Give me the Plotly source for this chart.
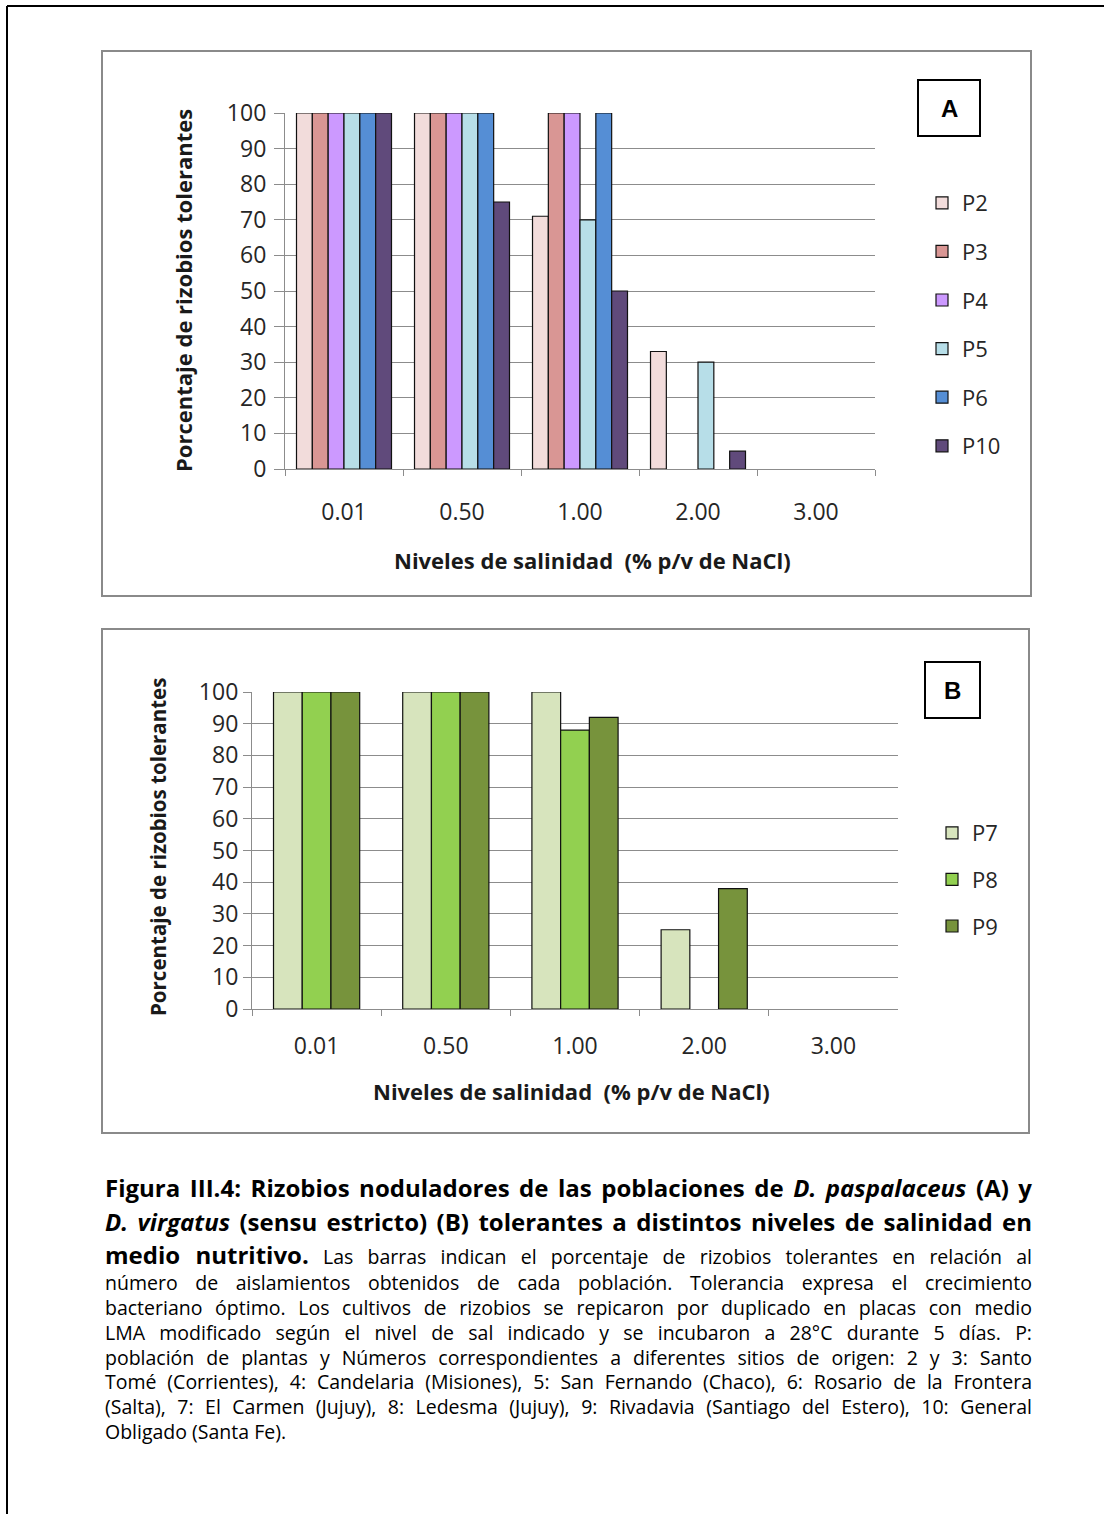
import json
import plotly.graph_objects as go

# Salinity levels (% w/v NaCl) shared by both panels
niveles = ["0.01", "0.50", "1.00", "2.00", "3.00"]

# Panel A: D. paspalaceus populations (% tolerant rhizobia)
series_a = ["P2", "P3", "P4", "P5", "P6", "P10"]
p2 = [100, 100, 71, 33, 0]
p3 = [100, 100, 100, 0, 0]
p4 = [100, 100, 100, 0, 0]
p5 = [100, 100, 70, 30, 0]
p6 = [100, 100, 100, 0, 0]
p10 = [100, 75, 50, 5, 0]
values_a = [p2, p3, p4, p5, p6, p10]
colors_a = ["#F2DCDB", "#D99694", "#CC99FF", "#B7DEE8", "#558ED5", "#604A7B"]

# Panel B: D. virgatus (sensu stricto) populations
series_b = ["P7", "P8", "P9"]
p7 = [100, 100, 100, 25, 0]
p8 = [100, 100, 88, 0, 0]
p9 = [100, 100, 92, 38, 0]
values_b = [p7, p8, p9]
colors_b = ["#D7E4BD", "#92D050", "#77933C"]

y_ticks = list(range(0, 101, 10))

W, H = 1104, 1514
FONT = "'Open Sans', Lato, sans-serif"
GRID = "#8C8C8C"


def px(x):
    return x / W


def py(y):
    return 1 - y / H


fig = go.Figure()


def add_group(names, values, colors, xa, ya, legend, group_frac):
    n = len(names)
    bw = group_frac / n
    for i, (name, vals, col) in enumerate(zip(names, values, colors)):
        fig.add_trace(go.Bar(
            x=niveles, y=vals, name=name,
            marker=dict(color=col,
                        line=dict(color="#111111",
                                  width=[1.2 if v > 0 else 0 for v in vals])),
            width=bw, offset=-group_frac / 2 + i * bw,
            xaxis=xa, yaxis=ya, legend=legend, legendgroup=name,
            hovertemplate=name + ": %{y}%<extra></extra>",
        ))


add_group(series_a, values_a, colors_a, "x", "y", "legend", 0.805)
add_group(series_b, values_b, colors_b, "x2", "y2", "legend2", 0.667)

axis_common = dict(
    showline=True, linecolor=GRID, linewidth=1.2,
    ticks="outside", tickcolor=GRID, tickwidth=1.2,
    tickfont=dict(family=FONT, size=23, color="#262626"),
    zeroline=False, automargin=False,
)

# Panel A plot area (pixels)
ax_a = dict(left=285, right=875, top=113, bottom=469)
# Panel B plot area (pixels)
ax_b = dict(left=252, right=898, top=692, bottom=1009)

legend_font = dict(family=FONT, size=22, color="#262626")

fig.update_layout(
    width=W, height=H,
    margin=dict(l=0, r=0, t=0, b=0, autoexpand=False),
    paper_bgcolor="white", plot_bgcolor="white",
    barmode="overlay",
    showlegend=True,
    xaxis=dict(domain=[px(ax_a["left"]), px(ax_a["right"])], anchor="y",
               type="category", tickson="boundaries", ticklen=6,
               ticklabelstandoff=22, showgrid=False, **axis_common),
    yaxis=dict(domain=[py(ax_a["bottom"]), py(ax_a["top"])], anchor="x",
               range=[0, 100], tickvals=y_ticks, ticklen=10,
               ticklabelstandoff=3,
               showgrid=True, gridcolor=GRID, gridwidth=1.2, **axis_common),
    xaxis2=dict(domain=[px(ax_b["left"]), px(ax_b["right"])], anchor="y2",
                type="category", tickson="boundaries", ticklen=6,
                ticklabelstandoff=16, showgrid=False, **axis_common),
    yaxis2=dict(domain=[py(ax_b["bottom"]), py(ax_b["top"])], anchor="x2",
                range=[0, 100], tickvals=y_ticks, ticklen=8,
                showgrid=True, gridcolor=GRID, gridwidth=1.2, **axis_common),
    legend=dict(x=px(922), y=py(182), xanchor="left", yanchor="top",
                font=legend_font, tracegroupgap=17, bgcolor="rgba(0,0,0,0)",
                itemclick=False, itemdoubleclick=False),
    legend2=dict(x=px(932), y=py(812), xanchor="left", yanchor="top",
                 font=legend_font, tracegroupgap=15, bgcolor="rgba(0,0,0,0)",
                 itemclick=False, itemdoubleclick=False),
)

shapes = []
annotations = []

# Page frame: top and left rules
shapes.append(dict(type="line", xref="paper", yref="paper",
                   x0=px(7), x1=1, y0=py(6), y1=py(6),
                   line=dict(color="black", width=2)))
shapes.append(dict(type="line", xref="paper", yref="paper",
                   x0=px(7), x1=px(7), y0=py(6), y1=0,
                   line=dict(color="black", width=2)))

# Chart area frames
for x0, y0, x1, y1 in [(102, 51, 1031, 596), (102, 629, 1029, 1133)]:
    shapes.append(dict(type="rect", xref="paper", yref="paper",
                       x0=px(x0), x1=px(x1), y0=py(y0), y1=py(y1),
                       line=dict(color="#8A8A8A", width=2)))

# Panel letter boxes
for letter, (x0, y0, x1, y1) in [("A", (918, 80, 980, 136)),
                                 ("B", (925, 662, 980, 718))]:
    shapes.append(dict(type="rect", xref="paper", yref="paper",
                       x0=px(x0), x1=px(x1), y0=py(y0), y1=py(y1),
                       line=dict(color="black", width=2)))
    annotations.append(dict(text="<b>%s</b>" % letter, xref="paper", yref="paper",
                            x=px((x0 + x1) / 2), y=py((y0 + y1) / 2),
                            showarrow=False, xanchor="center", yanchor="middle",
                            font=dict(family="Liberation Sans, Arial", size=24,
                                      color="black")))

# Axis titles
y_title = "<b>Porcentaje de rizobios tolerantes</b>"
x_title = "<b>Niveles de salinidad  (% p/v de NaCl)</b>"
for text, x, y, ang, size in [(y_title, 183, 290, -90, 22),
                              (x_title, 592, 560, 0, 22),
                              (y_title, 158, 847, -90, 20.5),
                              (x_title, 571, 1091, 0, 22)]:
    annotations.append(dict(text=text, xref="paper", yref="paper",
                            x=px(x), y=py(y), textangle=ang, showarrow=False,
                            xanchor="center", yanchor="middle",
                            font=dict(family=FONT, size=size, color="#1a1a1a")))

# Figure caption: (text, vertical position, font size, justified)
caption = [
    ("<b>Figura III.4: Rizobios noduladores de las poblaciones de <i>D. paspalaceus</i> (A) y</b>", 1187, 24, True),
    ("<b><i>D. virgatus</i> (sensu estricto) (B) tolerantes a distintos niveles de salinidad en</b>", 1221, 24, True),
    ("<b><span style='font-size:24px'>medio nutritivo.</span></b> Las barras indican el porcentaje de rizobios tolerantes en relación al", 1254, 19.5, True),
    ("número de aislamientos obtenidos de cada población. Tolerancia expresa el crecimiento", 1282, 19.5, True),
    ("bacteriano óptimo. Los cultivos de rizobios se repicaron por duplicado en placas con medio", 1307, 19.5, True),
    ("LMA modificado según el nivel de sal indicado y se incubaron a 28°C durante 5 días. P:", 1332, 19.5, True),
    ("población de plantas y Números correspondientes a diferentes sitios de origen: 2 y 3: Santo", 1357, 19.5, True),
    ("Tomé (Corrientes), 4: Candelaria (Misiones), 5: San Fernando (Chaco), 6: Rosario de la Frontera", 1381, 19.5, True),
    ("(Salta), 7: El Carmen (Jujuy), 8: Ledesma (Jujuy), 9: Rivadavia (Santiago del Estero), 10: General", 1406, 19.5, True),
    ("Obligado (Santa Fe).", 1431, 19.5, False),
]
CAPTION_LEFT, CAPTION_RIGHT = 103, 1030
justified = []
for text, y, size, just in caption:
    if just:
        justified.append(len(annotations))
    annotations.append(dict(text=text, xref="paper", yref="paper",
                            x=px(CAPTION_LEFT), y=py(y), showarrow=False,
                            xanchor="left", yanchor="middle", align="left",
                            font=dict(family=FONT, size=size, color="black")))

fig.update_layout(shapes=shapes, annotations=annotations)

# Justify the caption paragraph lines by spreading the word gaps
justify_js = """
document.body.style.margin = '0';
var gd = document.getElementById('{plot_id}');
var target = __WIDTH__;
__INDICES__.forEach(function (i) {
  var t = gd.querySelector('g.annotation[data-index="' + i + '"] text.annotation-text');
  if (!t) { return; }
  var gaps = (t.textContent.match(/ /g) || []).length;
  var w = t.getComputedTextLength();
  if (gaps > 0 && w < target) {
    t.style.wordSpacing = ((target - w) / gaps) + 'px';
  }
});
""".replace("__WIDTH__", str(CAPTION_RIGHT - CAPTION_LEFT)).replace(
    "__INDICES__", json.dumps(justified))

fig.write_html("out.html", post_script=justify_js)
